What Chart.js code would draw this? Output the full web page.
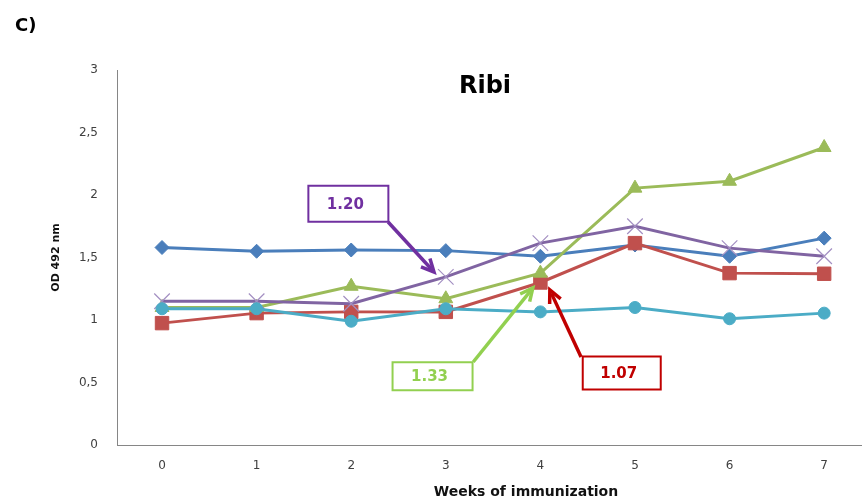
<!DOCTYPE html>
<html>
<head>
<meta charset="utf-8">
<script src="https://cdn.jsdelivr.net/npm/chart.js@4.4.0/dist/chart.umd.min.js"></script>
<style>
  html, body { margin: 0; padding: 0; background: #fff; }
  #wrap { width: 862px; height: 500px; position: relative; }
</style>
</head>
<body>
<div id="wrap"><canvas id="chart"></canvas></div>
<script>
// weeks of immunization
const weeks = [0, 1, 2, 3, 4, 5, 6, 7];
const yTickLabels = ['0', '0,5', '1', '1,5', '2', '2,5', '3'];

// OD 492 nm per group
const blueVals   = [1.58, 1.55, 1.56, 1.555, 1.51, 1.60, 1.51, 1.655];
const redVals    = [0.975, 1.055, 1.065, 1.065, 1.30, 1.615, 1.375, 1.37];
const greenVals  = [1.10, 1.10, 1.27, 1.17, 1.375, 2.055, 2.11, 2.38];
const purpleVals = [1.15, 1.15, 1.13, 1.345, 1.615, 1.75, 1.575, 1.51];
const cyanVals   = [1.09, 1.09, 0.99, 1.09, 1.065, 1.10, 1.01, 1.055];

// callouts: label, box centre and arrow in data units
const notes = [
  { text: '1.20', color: '#7030a0', w: 80, h: 36, cx: 1.97, cy: 1.93, from: [2.39, 1.784], to: [2.875, 1.384] },
  { text: '1.33', color: '#92d050', w: 80, h: 28, cx: 2.86, cy: 0.55, from: [3.29, 0.664], to: [3.92, 1.256] },
  { text: '1.07', color: '#c00000', w: 78, h: 33, cx: 4.86, cy: 0.576, from: [4.43, 0.704], to: [4.10, 1.24] }
];

function toPts(vals) {
  return vals.map((v, i) => ({ x: weeks[i], y: v }));
}

function line(vals, color, style, radius, order, extra) {
  return Object.assign({
    data: toPts(vals),
    borderColor: color,
    backgroundColor: color,
    pointBackgroundColor: color,
    pointBorderColor: color,
    borderWidth: 3,
    pointStyle: style,
    pointRadius: radius,
    pointBorderWidth: 1,
    tension: 0,
    order: order
  }, extra || {});
}

const calloutPlugin = {
  id: 'callouts',
  afterDatasetsDraw(chart) {
    const ctx = chart.ctx;
    const xs = chart.scales.x, ys = chart.scales.y;
    ctx.save();
    // headings
    ctx.fillStyle = '#000';
    ctx.textBaseline = 'middle';
    ctx.textAlign = 'left';
    ctx.font = 'bold 18px "DejaVu Sans"';
    ctx.fillText('C)', 15, 26);
    ctx.textAlign = 'center';
    ctx.font = 'bold 24px "DejaVu Sans"';
    ctx.fillText('Ribi', 485, 87);
    // x axis title sits right of centre in the original
    ctx.fillStyle = '#111';
    ctx.font = 'bold 14px "DejaVu Sans"';
    ctx.fillText('Weeks of immunization', 526, 492);

    notes.forEach(n => {
      const bx = xs.getPixelForValue(n.cx), by = ys.getPixelForValue(n.cy);
      ctx.fillStyle = '#fff';
      ctx.fillRect(bx - n.w / 2, by - n.h / 2, n.w, n.h);
      ctx.strokeStyle = n.color;
      ctx.lineWidth = 2;
      ctx.strokeRect(bx - n.w / 2, by - n.h / 2, n.w, n.h);
      ctx.fillStyle = n.color;
      ctx.font = 'bold 15px "DejaVu Sans"';
      ctx.fillText(n.text, bx - 3, by + 1);

      const x1 = xs.getPixelForValue(n.from[0]), y1 = ys.getPixelForValue(n.from[1]);
      const x2 = xs.getPixelForValue(n.to[0]), y2 = ys.getPixelForValue(n.to[1]);
      const a = Math.atan2(y2 - y1, x2 - x1);
      ctx.lineWidth = 3.5;
      ctx.lineCap = 'butt';
      ctx.beginPath();
      ctx.moveTo(x1, y1);
      ctx.lineTo(x2 - 4 * Math.cos(a), y2 - 4 * Math.sin(a));
      ctx.stroke();
      ctx.lineJoin = 'miter';
      ctx.beginPath();
      const L = 14, s = 0.45;
      ctx.moveTo(x2 - L * Math.cos(a - s), y2 - L * Math.sin(a - s));
      ctx.lineTo(x2, y2);
      ctx.lineTo(x2 - L * Math.cos(a + s), y2 - L * Math.sin(a + s));
      ctx.stroke();
    });
    ctx.restore();
  }
};

new Chart(document.getElementById('chart'), {
  type: 'line',
  data: {
    datasets: [
      line(blueVals, '#4a7ebb', 'rectRot', 7, 5),
      line(redVals, '#c0504d', 'rect', 9.5, 4),
      line(greenVals, '#9bbb59', 'triangle', 8, 3),
      line(purpleVals, '#8064a2', 'crossRot', 11, 2, { pointBorderColor: '#a38fc2', pointBorderWidth: 1.2 }),
      line(cyanVals, '#4bacc6', 'circle', 6, 1)
    ]
  },
  options: {
    responsive: true,
    maintainAspectRatio: false,
    animation: false,
    layout: { autoPadding: false, padding: { left: 0, top: 70, right: 0, bottom: 0 } },
    plugins: { legend: { display: false }, tooltip: { enabled: false } },
    scales: {
      x: {
        type: 'linear',
        min: -0.476,
        max: 7.4,
        afterBuildTicks: s => { s.ticks = weeks.map(v => ({ value: v })); },
        afterFit: s => { s.height = 55; },
        grid: { display: false, drawTicks: false },
        border: { color: '#868686', width: 1 },
        ticks: { padding: 14, color: '#404040', font: { family: 'DejaVu Sans', size: 12 } },
        title: { display: false }
      },
      y: {
        min: 0,
        max: 3,
        afterFit: s => { s.width = 117; },
        grid: { display: false, drawTicks: false },
        border: { color: '#868686', width: 1 },
        ticks: { stepSize: 0.5, padding: 19, color: '#404040', font: { family: 'DejaVu Sans', size: 12 },
                 callback: (v, i) => yTickLabels[i] },
        title: { display: true, text: 'OD 492 nm', color: '#111', padding: { top: 50, bottom: 0 },
                 font: { family: 'DejaVu Sans', size: 11, weight: 'bold' } }
      }
    }
  },
  plugins: [calloutPlugin]
});
</script>
</body>
</html>
